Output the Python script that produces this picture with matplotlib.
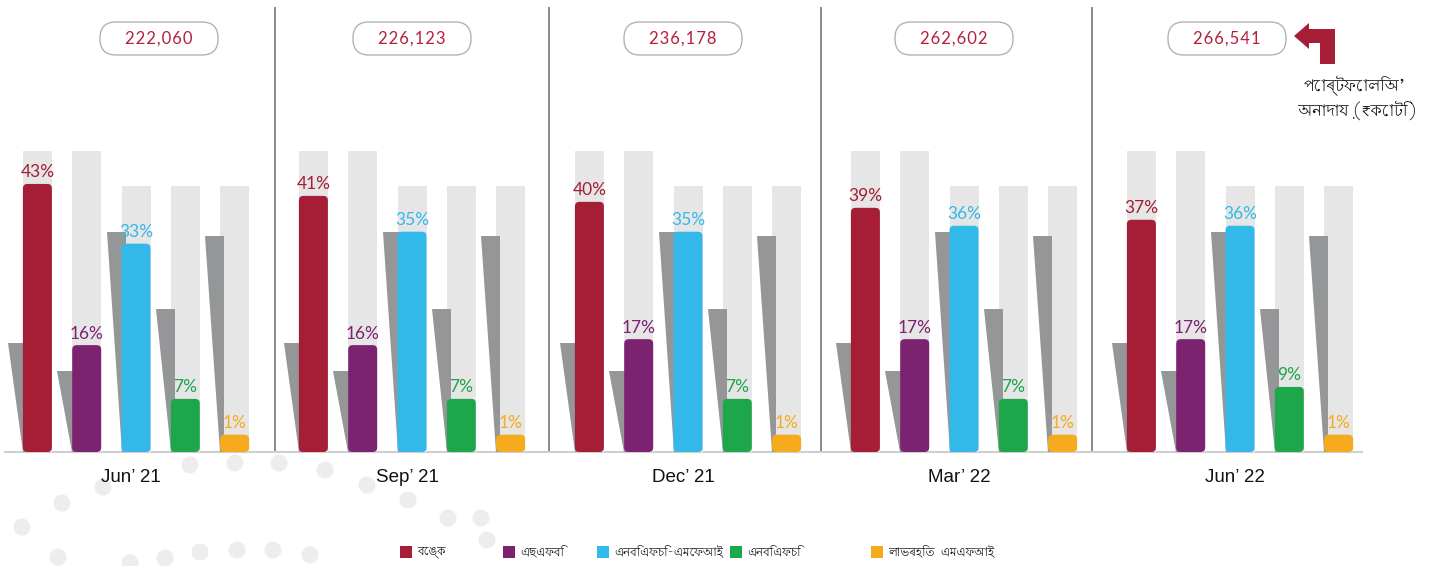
import glob
import matplotlib
matplotlib.use("Agg")
import matplotlib.pyplot as plt
from matplotlib import font_manager, ft2font
from matplotlib.patches import FancyBboxPatch, Polygon, Circle

# ---------------- data ----------------
periods = ["Jun’ 21", "Sep’ 21", "Dec’ 21", "Mar’ 22", "Jun’ 22"]
portfolio = ["222,060", "226,123", "236,178", "262,602", "266,541"]
categories = ["বেঙ্ক", "এছএফবি", "এনবিএফচি-এমেফআই", "এনবিএফচি", "লাভৰহিত  এমএফআই"]
bank = [43, 41, 40, 39, 37]
sfb = [16, 16, 17, 17, 17]
nbfc_mfi = [33, 35, 35, 36, 36]
nbfc = [7, 7, 7, 7, 9]
nfp_mfi = [1, 1, 1, 1, 1]
series = [bank, sfb, nbfc_mfi, nbfc, nfp_mfi]
annot = "পোৰ্টফোলিঅ’\n অনাদায় (₹কোটি)"


# ---------------- find a font with Bengali script ----------------
def find_bengali_family():
    files = set(f.fname for f in font_manager.fontManager.ttflist)
    for pat in ("/usr/share/fonts/**/*.*tf", "/usr/local/share/fonts/**/*.*tf",
                "/usr/share/fonts/**/*.ttc", "~/.fonts/**/*.*tf"):
        for p in glob.glob(pat, recursive=True):
            files.add(p)
    preferred = sorted(files, key=lambda p: (0 if "Bengali" in p or "Beng" in p else 1, p))
    for p in preferred:
        try:
            ft = ft2font.FT2Font(p)
            cm = ft.get_charmap()
        except Exception:
            continue
        if 0x0985 in cm and 0x09F0 in cm and 0x09AC in cm:
            try:
                font_manager.fontManager.addfont(p)
            except Exception:
                pass
            return ft.family_name
    return None


BENG = find_bengali_family()
BENG_FAM = ([BENG] if BENG else []) + ["Noto Sans", "DejaVu Sans"]

# ---------------- style ----------------
colors = ["#a51e36", "#7b2271", "#33b9e9", "#1ea64b", "#f5ab1d"]
BG_GREY = "#e6e6e6"
SHADOW = "#959698"
PXU = 5.97          # pixels per percentage point
FLOOR = -1.9        # bar floor in % units
BASE_PX = 452       # baseline, px from top
W, H = 1442, 566
Y1 = FLOOR + BASE_PX / PXU
Y0 = Y1 - H / PXU

GROUP_C0, GROUP_STEP = 136, 276
BAR_STEP, BAR_W = 49.3, 29
BG_H = [50.4, 50.4, 44.6, 44.6, 44.6]            # decorative backdrop heights (% units above floor)
SHADOW_H = [18.3, 13.6, 36.9, 24.0, 36.2]       # decorative shadow heights
PILL_X = [159, 412, 683, 954, 1227]
DIVIDERS = [275, 549, 821, 1092]

fig = plt.figure(figsize=(W / 100, H / 100), dpi=100)
deco = fig.add_axes([0, 0, 1, 1], zorder=0)
deco.set_xlim(0, W)
deco.set_ylim(H, 0)
deco.axis("off")
ax = fig.add_axes([0, 0, 1, 1], zorder=1)
ax.set_xlim(0, W)
ax.set_ylim(Y0, Y1)
ax.patch.set_alpha(0)
ax.axis("off")

# decorative dots
dots = [(190, 465), (235, 463), (279, 463), (325, 470), (103, 487), (62, 503),
        (22, 527), (367, 485), (408, 500), (448, 518), (58, 557), (200, 552),
        (237, 550), (273, 550), (310, 555), (165, 558), (487, 540), (481, 518),
        (130, 563)]
for (dx, dy) in dots:
    deco.add_patch(Circle((dx, dy), 8.5, color="#ededed", lw=0))

# dividers and baseline
for xd in DIVIDERS:
    deco.plot([xd, xd], [8, BASE_PX], color="#8a8a8a", lw=1.4)
deco.plot([5, 1362], [BASE_PX, BASE_PX], color="#cfcfcf", lw=1.5)

# bars
for i in range(len(periods)):
    c = GROUP_C0 + GROUP_STEP * i
    xs = [c + (j - 2) * BAR_STEP for j in range(len(series))]
    vals = [s[i] for s in series]
    # light grey backdrop
    ax.bar(xs, BG_H, width=BAR_W, bottom=FLOOR, color=BG_GREY, lw=0, zorder=1)
    # dark grey shadows
    for j, x in enumerate(xs):
        bl = x - BAR_W / 2
        top = FLOOR + SHADOW_H[j]
        ax.add_patch(Polygon([(bl - 15, top), (bl + 4, top), (bl + 4, FLOOR), (bl, FLOOR)],
                             closed=True, color=SHADOW, lw=0, zorder=2))
    bars = ax.bar(xs, [v - FLOOR for v in vals], width=BAR_W, bottom=FLOOR,
                  color=colors, lw=0, zorder=3)
    for j, r in enumerate(bars.patches):
        r.set_visible(False)
        hx, hy = r.get_x(), r.get_y()
        rw, rh = r.get_width(), r.get_height()
        rad = min(4.5, rh * PXU / 2 - 0.5)
        ax.add_patch(FancyBboxPatch((hx, hy), rw, rh,
                                    boxstyle=f"round,pad=0,rounding_size={rad}",
                                    mutation_aspect=1 / PXU, color=colors[j], lw=0, zorder=3))
        ax.text(xs[j], vals[j] + 0.6, f"{vals[j]}%", ha="center", va="bottom",
                color=colors[j], fontsize=12.5, fontweight="normal",
                family=["Lato", "DejaVu Sans"], zorder=4)

    # period label
    deco.text(c - 5, 477, periods[i], ha="center", va="center", fontsize=13.5,
              family=["Liberation Sans", "DejaVu Sans"], color="#111111")
    # pill with portfolio value
    px = PILL_X[i]
    deco.add_patch(FancyBboxPatch((px - 59 + 16, 22 + 16), 118 - 32, 33 - 32,
                                  boxstyle="round,pad=16", fc="white", ec="#b3b3b3", lw=1.0))
    deco.text(px, 39, "\u200a".join(portfolio[i]), ha="center", va="center", fontsize=12,
              color="#b5203c", fontweight="normal", family=["Lato", "DejaVu Sans"])

# arrow + annotation
arrow = [(1294, 36), (1309, 23), (1309, 29), (1335, 29), (1335, 64), (1320, 64),
         (1320, 43), (1309, 43), (1309, 49)]
deco.add_patch(Polygon(arrow, closed=True, color="#a51e36", lw=0))
deco.text(1355, 98, annot, ha="center", va="center", fontsize=11.5, fontweight="bold",
          linespacing=1.3, family=BENG_FAM, color="#111111")

# legend
leg_x = [400, 503, 597, 730, 871]
for j, lx in enumerate(leg_x):
    deco.add_patch(plt.Rectangle((lx, 546), 12, 12, color=colors[j], lw=0))
    deco.text(lx + 17, 552, categories[j], ha="left", va="center", fontsize=8.6,
              family=BENG_FAM, color="#111111")

fig.savefig("out.png", dpi=100)
